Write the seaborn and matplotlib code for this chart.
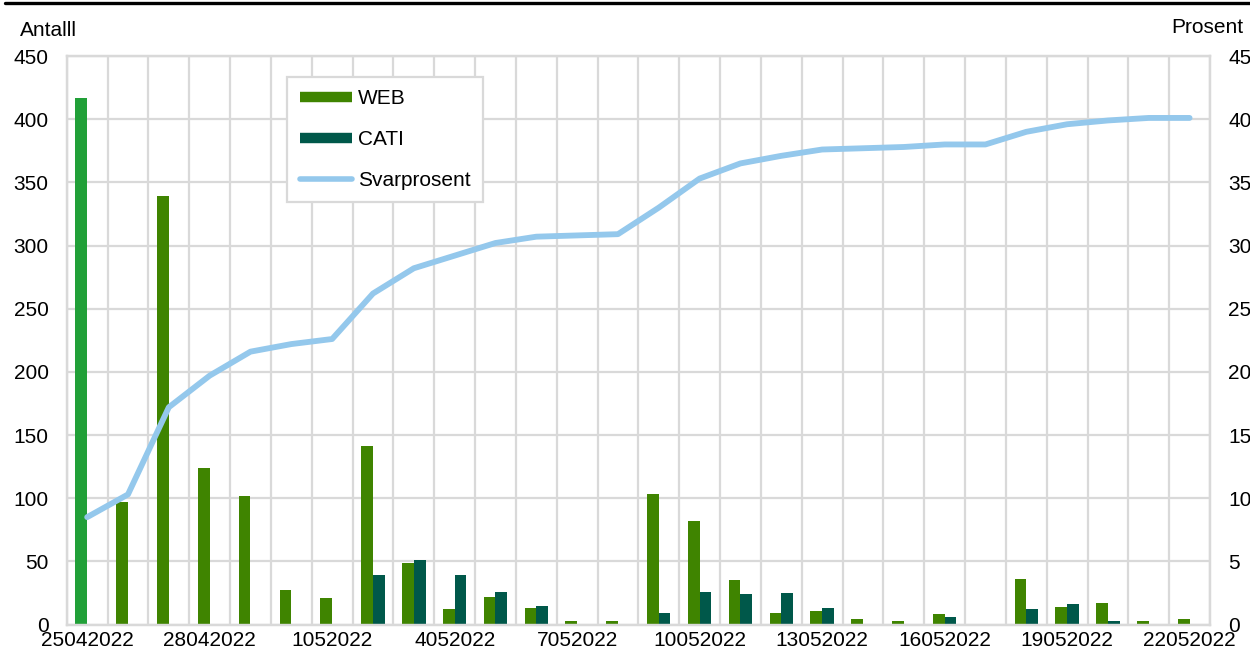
import matplotlib
matplotlib.use("Agg")
import matplotlib.pyplot as plt
from matplotlib.lines import Line2D
import numpy as np
import pandas as pd
import seaborn as sns

# Daily responses by mode and cumulative response rate
dates = [
    "25042022", "26042022", "27042022", "28042022", "29042022", "30042022",
    "1052022", "2052022", "3052022", "4052022", "5052022", "6052022",
    "7052022", "8052022", "9052022", "10052022", "11052022", "12052022",
    "13052022", "14052022", "15052022", "16052022", "17052022", "18052022",
    "19052022", "20052022", "21052022", "22052022",
]
web = [417, 97, 339, 124, 102, 27, 21, 141, 49, 12, 22, 13, 3, 3,
       103, 82, 35, 9, 11, 4, 3, 8, 0, 36, 14, 17, 3, 4]
cati = [0, 0, 0, 0, 0, 0, 0, 39, 51, 39, 26, 15, 0, 0,
        9, 26, 24, 25, 13, 0, 0, 6, 0, 12, 16, 3, 0, 0]
svarprosent = [8.5, 10.3, 17.2, 19.7, 21.6, 22.2, 22.6, 26.2, 28.2, 29.2,
               30.2, 30.7, 30.8, 30.9, 33.0, 35.3, 36.5, 37.1, 37.6, 37.7,
               37.8, 38.0, 38.0, 39.0, 39.6, 39.9, 40.1, 40.1]
modes = ["WEB", "CATI"]

WEB_C, CATI_C, FIRST_C, LINE_C = "#3f8400", "#00584a", "#21a038", "#94c8ec"
GRID_C = "#d9d9d9"

sns.set_theme(style="white")
plt.rcParams["font.family"] = ["Liberation Sans", "DejaVu Sans"]
plt.rcParams["text.color"] = "black"
plt.rcParams["xtick.color"] = "black"
plt.rcParams["ytick.color"] = "black"
FS = 15

df = pd.DataFrame({"dato": dates, "WEB": web, "CATI": cati})
long = df.melt(id_vars="dato", value_vars=modes, var_name="modus", value_name="antall")

fig = plt.figure(figsize=(12.5, 6.53), dpi=100)
ax = fig.add_axes([0.0534, 0.0436, 0.968 - 0.0534, 0.9142 - 0.0436])

sns.barplot(data=long, x="dato", y="antall", hue="modus", hue_order=modes,
            order=dates, palette=[WEB_C, CATI_C], width=0.573,
            saturation=1, linewidth=0, legend=False, ax=ax)
# the first day is highlighted in a lighter green
max(ax.patches, key=lambda p: p.get_height()).set_facecolor(FIRST_C)

ax2 = ax.twinx()
sns.lineplot(x=np.arange(len(dates)), y=svarprosent, color=LINE_C, lw=4.2,
             solid_capstyle="round", ax=ax2)

ax.set_xlim(-0.5, len(dates) - 0.5)
ax.set_ylim(0, 450)
ax2.set_ylim(0, 45)
ax.set_yticks(range(0, 451, 50))
ax2.set_yticks(range(0, 46, 5))
ax.set_xticks(range(0, len(dates), 3))
ax.set_xticklabels(dates[::3])
ax.set_xticks(np.arange(-0.5, len(dates), 1), minor=True)

ax.set_axisbelow(True)
ax.grid(axis="y", which="major", color=GRID_C, lw=1.6)
ax.grid(axis="x", which="minor", color=GRID_C, lw=1.6)
ax.set_xlabel("")
ax.set_ylabel("")
ax2.set_ylabel("")
ax.tick_params(axis="x", which="both", length=0, pad=5, labelsize=FS)
ax.tick_params(axis="y", length=0, pad=13, labelsize=FS)
ax2.tick_params(axis="y", length=0, pad=13, labelsize=FS)
for a in (ax, ax2):
    for s in a.spines.values():
        s.set_color(GRID_C)
        s.set_linewidth(1.6)

handles = [
    Line2D([], [], color=WEB_C, lw=7.5, solid_capstyle="butt"),
    Line2D([], [], color=CATI_C, lw=7.5, solid_capstyle="butt"),
    Line2D([], [], color=LINE_C, lw=4, solid_capstyle="round"),
]
leg = ax2.legend(handles, ["WEB", "CATI", "Svarprosent"], loc="upper left",
                 bbox_to_anchor=(0.193, 0.9636), borderaxespad=0, fontsize=FS,
                 frameon=True, fancybox=False, framealpha=1, edgecolor=GRID_C,
                 handlelength=2.5, handletextpad=0.3, labelspacing=1.05,
                 borderpad=0.6)
leg.get_frame().set_linewidth(1.6)

fig.text(0.016, 0.945, "Antalll", fontsize=FS, ha="left", va="baseline")
fig.text(0.995, 0.95, "Prosent", fontsize=FS, ha="right", va="baseline")
fig.add_artist(Line2D([0.004, 1], [0.995, 0.995], color="black", lw=2.4,
                      transform=fig.transFigure))

fig.savefig("out.png", dpi=100)
